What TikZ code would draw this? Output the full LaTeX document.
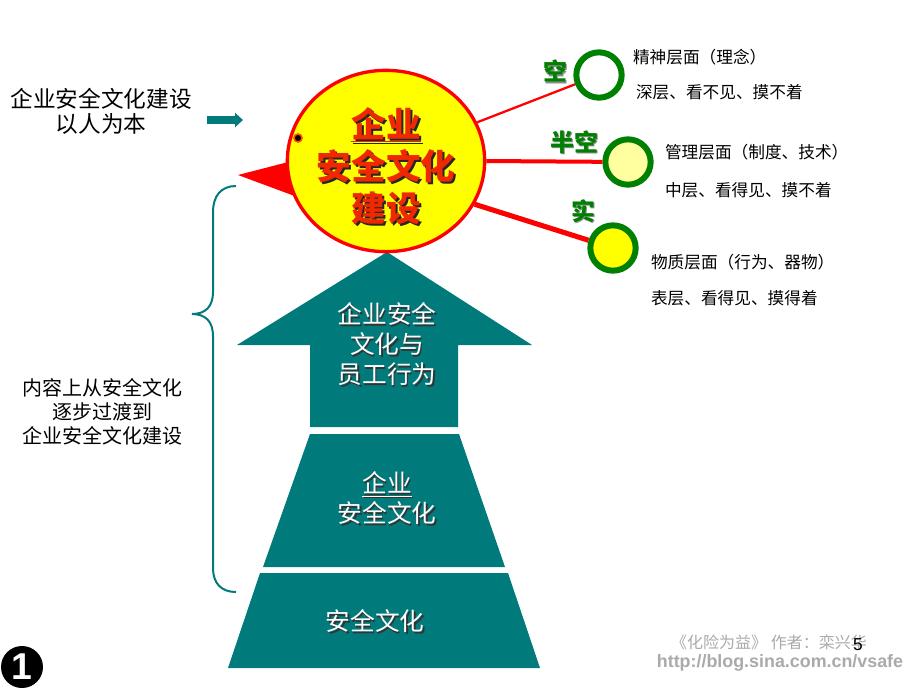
\documentclass[tikz,border=0pt]{standalone}
\usepackage{fontspec}
\setmainfont{Noto Sans CJK SC}
\newfontfamily\lat{Liberation Sans}
\usetikzlibrary{shapes.geometric,arrows.meta}
\definecolor{tealc}{RGB}{0,122,122}
\definecolor{redc}{RGB}{255,0,0}
\definecolor{txtred}{RGB}{240,40,0}
\definecolor{yel}{RGB}{255,255,0}
\definecolor{lyel}{RGB}{255,255,160}
\definecolor{greenc}{RGB}{0,128,0}
\definecolor{wmgray}{RGB}{170,170,170}
\newcommand{\fsz}[2]{\fontsize{#1}{#2}\selectfont}
\newcommand{\shd}[4]{\makebox[0pt][l]{\hspace{#3}\raisebox{-#3}{\color{#2}#4}}{\color{#1}#4}}
\tikzset{
  plain/.style={inner sep=0pt, outer sep=0pt},
  sidetxt/.style={plain, anchor=west, font=\fsz{12.5pt}{15pt}},
  ring/.style={circle, draw=greenc, line width=4.5pt, minimum size=34pt, inner sep=0pt},
  link/.style={draw=redc},
  tealtxt/.style={plain, align=center, font=\fsz{18.5pt}{22.5pt}},
  lvl/.style={plain, font=\bfseries\fsz{18pt}{20pt}},
}
\begin{document}
\begin{tikzpicture}[x=0.75pt,y=-0.75pt]
\useasboundingbox (0,0) rectangle (920,690);
\fill[white] (0,0) rectangle (920,690);

% pyramid: arrow and two trapezoids
\fill[tealc] (387,252) -- (532,345) -- (458,345) -- (458,427) -- (310,427) -- (310,345) -- (237,345) -- cycle;
\fill[tealc] (310,434) -- (459,434) -- (505,567) -- (263,567) -- cycle;
\fill[tealc] (260,573) -- (508,573) -- (540,668) -- (228,668) -- cycle;

\node[tealtxt] (t1) at (387,345) {\shd{white}{black!80}{1.2pt}{企业安全}\\\shd{white}{black!80}{1.2pt}{文化与}\\\shd{white}{black!80}{1.2pt}{员工行为}};
\node[tealtxt] (t2) at (387,499) {\shd{white}{black!80}{1.2pt}{\underline{企业}}\\\shd{white}{black!80}{1.2pt}{安全文化}};
\node[tealtxt] (t3) at (375,622) {\shd{white}{black!80}{1.2pt}{安全文化}};

% red pointer triangle behind the main circle
\fill[redc] (238,175) -- (300,159) -- (300,198) -- cycle;

% main circle
\node[ellipse, draw=redc, line width=2.5pt, fill=yel, minimum width=148pt, minimum height=136pt, inner sep=0pt] (main) at (386,161) {};
\node[plain, align=center, font=\bfseries\fsz{26pt}{31.5pt}] (mainlbl) at (386,167)
  {\shd{txtred}{black!85}{1.6pt}{\underline{企业}}\\\shd{txtred}{black!85}{1.6pt}{安全文化}\\\shd{txtred}{black!85}{1.6pt}{建设}};
\node[circle, fill=black, draw={rgb,255:red,255;green,80;blue,0}, line width=1.2pt, minimum size=6pt, inner sep=0pt] (dot) at (298,138) {};

% small circles
\node[ring, fill=white] (c1) at (599,75) {};
\node[ring, fill=lyel] (c2) at (628,162) {};
\node[ring, fill=yel] (c3) at (613,248) {};

\draw[link, line width=1.7pt] (main.23) -- (c1);
\draw[link, line width=3pt] (main.0) -- (c2);
\draw[link, line width=3.8pt] (main.-26) -- (c3);

\node[lvl] (l1) at (555,72) {\shd{greenc}{black!45}{1pt}{空}};
\node[lvl] (l2) at (574,143) {\shd{greenc}{black!45}{1pt}{半空}};
\node[lvl] (l3) at (583,212) {\shd{greenc}{black!45}{1pt}{实}};

\node[sidetxt] (s1a) at (633,57) {精神层面（理念）};
\node[sidetxt] (s1b) at (636,92) {深层、看不见、摸不着};
\node[sidetxt] (s2a) at (665,152) {管理层面（制度、技术）};
\node[sidetxt] (s2b) at (665,190) {中层、看得见、摸不着};
\node[sidetxt] (s3a) at (651,262) {物质层面（行为、器物）};
\node[sidetxt] (s3b) at (651,298) {表层、看得见、摸得着};

% left texts
\node[plain, align=center, font=\fsz{17pt}{19pt}] (lt1) at (101,111) {企业安全文化建设\\以人为本};
\coordinate (a1) at (207,120);
\coordinate (a2) at (243,120);
\draw[tealc, line width=6pt, -{Triangle[length=6pt,width=10.5pt]}] (a1) -- (a2);

\node[plain, align=center, font=\fsz{15pt}{17.8pt}] (lt2) at (102,412) {内容上从安全文化\\逐步过渡到\\企业安全文化建设};

% brace
\draw[tealc, line width=1.5pt] (236,186) .. controls (221,186) and (213,196) .. (213,212) -- (213,292)
  .. controls (213,306) and (206,314) .. (192,314)
  .. controls (206,314) and (213,322) .. (213,336) -- (213,568)
  .. controls (213,583) and (221,592) .. (236,592);

% footer
\node[plain, font=\fsz{12pt}{14pt}, text=wmgray] (wm1) at (769,642) {《化险为益》 作者：栾兴华};
\node[plain, font=\lat\bfseries\fsz{13.4pt}{15pt}, text=wmgray] (wm2) at (780,663) {http://blog.sina.com.cn/vsafe};
\node[plain, font=\lat\fsz{13pt}{15pt}] (pg) at (858,645) {5};
\node[circle, fill=black, minimum size=31.5pt, inner sep=0pt, font=\lat\bfseries\fsz{28pt}{30pt}, text=white] (num) at (22,667) {1};
\end{tikzpicture}
\end{document}
